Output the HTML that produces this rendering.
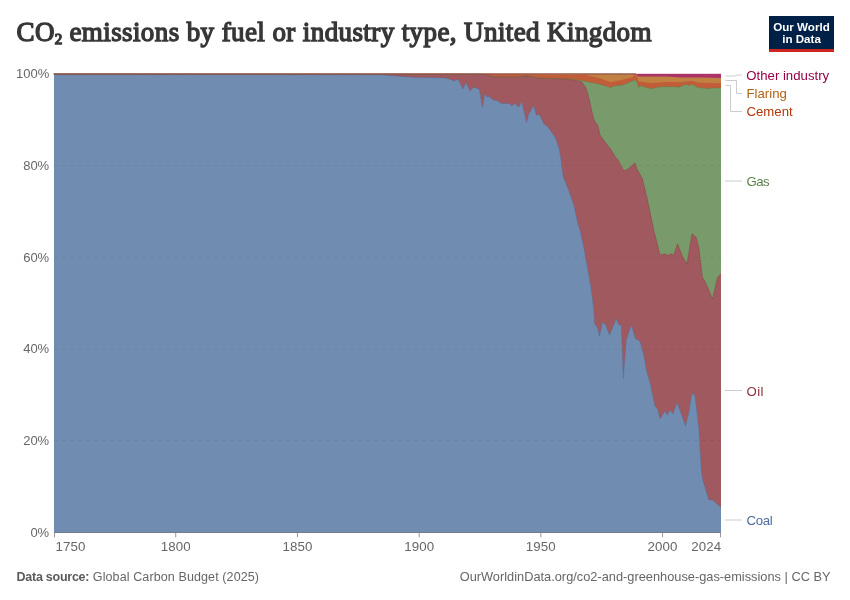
<!DOCTYPE html>
<html><head><meta charset="utf-8">
<style>
html,body{margin:0;padding:0;background:#fff;}
body{width:850px;height:600px;position:relative;overflow:hidden;font-family:"Liberation Sans",sans-serif;}
#wrap{position:absolute;left:0;top:0;width:850px;height:600px;will-change:transform;}
.t{position:absolute;white-space:nowrap;}
#title{left:16.5px;top:16.5px;font-family:"Liberation Serif",serif;font-weight:normal;font-size:27px;color:#373737;letter-spacing:0.4px;-webkit-text-stroke:1.35px #373737;}
#logo{position:absolute;left:769px;top:16px;width:65px;height:33px;background:#002147;border-bottom:3px solid #ce261e;}
#logo div{position:absolute;left:0;width:65px;text-align:center;color:#fff;font-weight:bold;font-size:11.6px;line-height:12px;}
svg text{font-family:"Liberation Sans",sans-serif;}
</style></head><body><div id="wrap">
<div id="title" class="t">CO<span style="font-size:15px;position:relative;top:3.5px;letter-spacing:0">2</span> emissions by fuel or industry type, United Kingdom</div>
<div id="logo"><div style="top:4.6px">Our World</div><div style="top:16.6px">in Data</div></div>
<svg width="850" height="600" style="position:absolute;left:0;top:0">
<rect x="54" y="73.8" width="667" height="100" fill="#ac3368"/>
<polygon points="54,73.5 636,73.6 637.5,76.3 640,76.4 665.4,76.6 682.4,77.4 703.6,77.4 721,77.9 721,520 54,520" fill="#c18143"/>
<polygon points="54,73.8 480,73.8 570,75 585.7,74.8 598.9,77.9 611.1,82.2 622.5,79.8 632.8,77 634.2,74.6 636.6,75.5 638.5,81.2 650.8,83.1 666.5,81.9 682.4,81.9 691.9,80.8 698.3,82.4 721,83.3 721,520 54,520" fill="#c15d39"/>
<polygon points="54,74 485,74.5 494,76.8 515.3,77.2 526.6,75.8 536.5,77.9 564.7,79 579,80 589.4,82.2 598.9,84 611.1,87.8 614,85.9 623.4,85 626.2,83.6 631,81.7 634.2,80 636.6,81.2 638.5,87.3 641.3,85.9 650.8,88.8 661.2,86.7 671.8,86.7 679.2,87.2 685.5,84.5 689.8,85.6 691.9,84.2 697.2,87.2 707.8,88.8 712,88 721,88 721,520 54,520" fill="#799a6a"/>
<polygon points="54,74 485,74.5 494,76.8 515.3,77.2 526.6,75.8 536.5,77.9 564.7,79 570,79.6 578,80.4 582,82 586,88 589,98 592,112 594,120 598,126 600,135 608,146 610,148 616,158 618,160 624,171 628,169 635,163 637.5,170 642.5,178.8 647.5,200 653.8,230 660,255 665,253.8 667.5,255.5 671.3,253.8 673.8,255 677.5,243.8 682.5,256.3 687,263.8 692,233.8 696.3,237.5 698.8,247.5 702.5,277.5 705,281.3 712.5,298.8 717.5,277.5 721,273.5 721,520 54,520" fill="#a0595f"/>
<polygon points="54,74.8 380,74.8 400,76.4 415,77.4 435,77.8 445,78.1 450,79.3 454,81 458,79.3 463,89 466,82.5 470,91.3 473.5,87.2 475.9,87.8 479.4,89.5 482.4,107.8 484.7,94.2 487.6,97.2 489.4,96.6 492.9,100.1 497,100.4 501.2,103.4 508.8,103.4 511.8,105.8 514.7,103.4 518.8,107.2 521.8,101.3 526.5,122.5 528.8,114.2 533.5,105.4 536.5,115.4 538.2,114.2 540.6,116.6 542,120 543.5,123.6 548,127 553.5,135 555,137 559,148 561,160 563,176 570,194 574,206 578,224 580,230 583.8,247.5 587.5,267.5 591.3,290 593.8,310 594.5,323.8 597.5,327.5 599.5,336.3 602.5,322.5 605,323.8 609.5,335 616.3,318.8 618.8,325 621.3,325 623.3,378.5 626.3,340 631.3,325 635.5,338.8 640,341.3 643.8,355 646.3,370 650,382.5 655,406.3 657.5,408.8 660,418.8 665,411.3 667.5,415 670,410 673,413.8 677,402.5 681.3,413.8 685.5,426.3 688.8,412.5 692,393 695,396.3 698.8,427.5 701.3,470 702.5,478.8 708.8,500 712.5,500 721,507.5 721,532.0 54,532.0" fill="#708cb0"/>
<polyline points="54,74.8 380,74.8 400,76.4 415,77.4 435,77.8 445,78.1 450,79.3 454,81 458,79.3 463,89 466,82.5 470,91.3 473.5,87.2 475.9,87.8 479.4,89.5 482.4,107.8 484.7,94.2 487.6,97.2 489.4,96.6 492.9,100.1 497,100.4 501.2,103.4 508.8,103.4 511.8,105.8 514.7,103.4 518.8,107.2 521.8,101.3 526.5,122.5 528.8,114.2 533.5,105.4 536.5,115.4 538.2,114.2 540.6,116.6 542,120 543.5,123.6 548,127 553.5,135 555,137 559,148 561,160 563,176 570,194 574,206 578,224 580,230 583.8,247.5 587.5,267.5 591.3,290 593.8,310 594.5,323.8 597.5,327.5 599.5,336.3 602.5,322.5 605,323.8 609.5,335 616.3,318.8 618.8,325 621.3,325 623.3,378.5 626.3,340 631.3,325 635.5,338.8 640,341.3 643.8,355 646.3,370 650,382.5 655,406.3 657.5,408.8 660,418.8 665,411.3 667.5,415 670,410 673,413.8 677,402.5 681.3,413.8 685.5,426.3 688.8,412.5 692,393 695,396.3 698.8,427.5 701.3,470 702.5,478.8 708.8,500 712.5,500 721,507.5" fill="none" stroke="#4c6a9c" stroke-width="0.6" stroke-opacity="0.6"/>
<polyline points="54,74 485,74.5 494,76.8 515.3,77.2 526.6,75.8 536.5,77.9 564.7,79 570,79.6 578,80.4 582,82 586,88 589,98 592,112 594,120 598,126 600,135 608,146 610,148 616,158 618,160 624,171 628,169 635,163 637.5,170 642.5,178.8 647.5,200 653.8,230 660,255 665,253.8 667.5,255.5 671.3,253.8 673.8,255 677.5,243.8 682.5,256.3 687,263.8 692,233.8 696.3,237.5 698.8,247.5 702.5,277.5 705,281.3 712.5,298.8 717.5,277.5 721,273.5" fill="none" stroke="#883039" stroke-width="0.6" stroke-opacity="0.6"/>
<polyline points="54,74 485,74.5 494,76.8 515.3,77.2 526.6,75.8 536.5,77.9 564.7,79 579,80 589.4,82.2 598.9,84 611.1,87.8 614,85.9 623.4,85 626.2,83.6 631,81.7 634.2,80 636.6,81.2 638.5,87.3 641.3,85.9 650.8,88.8 661.2,86.7 671.8,86.7 679.2,87.2 685.5,84.5 689.8,85.6 691.9,84.2 697.2,87.2 707.8,88.8 712,88 721,88" fill="none" stroke="#578145" stroke-width="0.6" stroke-opacity="0.6"/>
<line x1="54" x2="721" y1="165.5" y2="165.5" stroke="rgba(0,0,0,0.04)" stroke-width="1" stroke-dasharray="4,4"/>
<line x1="54" x2="721" y1="257.5" y2="257.5" stroke="rgba(0,0,0,0.04)" stroke-width="1" stroke-dasharray="4,4"/>
<line x1="54" x2="721" y1="349.0" y2="349.0" stroke="rgba(0,0,0,0.04)" stroke-width="1" stroke-dasharray="4,4"/>
<line x1="54" x2="721" y1="440.5" y2="440.5" stroke="rgba(0,0,0,0.04)" stroke-width="1" stroke-dasharray="4,4"/>
<line x1="53.3" x2="636" y1="74" y2="74" stroke="#8c5454" stroke-width="1.1"/>
<line x1="54" x2="721" y1="532.5" y2="532.5" stroke="#737d8c" stroke-width="1"/>
<line x1="54.50" x2="54.50" y1="533" y2="537.3" stroke="#999" stroke-width="1"/>
<line x1="175.72" x2="175.72" y1="533" y2="537.3" stroke="#999" stroke-width="1"/>
<line x1="297.43" x2="297.43" y1="533" y2="537.3" stroke="#999" stroke-width="1"/>
<line x1="419.15" x2="419.15" y1="533" y2="537.3" stroke="#999" stroke-width="1"/>
<line x1="540.86" x2="540.86" y1="533" y2="537.3" stroke="#999" stroke-width="1"/>
<line x1="662.58" x2="662.58" y1="533" y2="537.3" stroke="#999" stroke-width="1"/>
<line x1="720.50" x2="720.50" y1="533" y2="537.3" stroke="#999" stroke-width="1"/>
<g stroke="#ccc" stroke-width="1" fill="none">
<path d="M725.5,76 H735 L737,75 H742"/>
<path d="M725.5,80.5 H736.5 V93.5 H742"/>
<path d="M725.5,85.5 H730.5 V111.5 H742"/>
<path d="M725,181 H742"/>
<path d="M725,390.5 H742"/>
<path d="M725,520 H742"/>
</g>
<text x="49.2" y="78.2" font-size="13" fill="#666" text-anchor="end" letter-spacing="0">100%</text>
<text x="49.2" y="169.96" font-size="13" fill="#666" text-anchor="end" letter-spacing="0">80%</text>
<text x="49.2" y="261.72" font-size="13" fill="#666" text-anchor="end" letter-spacing="0">60%</text>
<text x="49.2" y="353.48" font-size="13" fill="#666" text-anchor="end" letter-spacing="0">40%</text>
<text x="49.2" y="445.24" font-size="13" fill="#666" text-anchor="end" letter-spacing="0">20%</text>
<text x="49.2" y="537" font-size="13" fill="#666" text-anchor="end" letter-spacing="0">0%</text>
<text x="55.5" y="550.6" font-size="13.3" fill="#666" text-anchor="start" letter-spacing="0.1">1750</text>
<text x="175.715" y="550.6" font-size="13.3" fill="#666" text-anchor="middle" letter-spacing="0.1">1800</text>
<text x="297.431" y="550.6" font-size="13.3" fill="#666" text-anchor="middle" letter-spacing="0.1">1850</text>
<text x="419.146" y="550.6" font-size="13.3" fill="#666" text-anchor="middle" letter-spacing="0.1">1900</text>
<text x="540.861" y="550.6" font-size="13.3" fill="#666" text-anchor="middle" letter-spacing="0.1">1950</text>
<text x="662.577" y="550.6" font-size="13.3" fill="#666" text-anchor="middle" letter-spacing="0.1">2000</text>
<text x="721.3" y="550.6" font-size="13.3" fill="#666" text-anchor="end" letter-spacing="0.1">2024</text>
<text x="746.3" y="79.6" font-size="13.2" fill="#970046" text-anchor="start" letter-spacing="0">Other industry</text>
<text x="746.5" y="98" font-size="13.2" fill="#b16214" text-anchor="start" letter-spacing="0">Flaring</text>
<text x="746.5" y="116.1" font-size="13.2" fill="#b13507" text-anchor="start" letter-spacing="0">Cement</text>
<text x="746.5" y="185.7" font-size="13.2" fill="#578145" text-anchor="start" letter-spacing="-0.6">Gas</text>
<text x="746.5" y="395.5" font-size="13.2" fill="#883039" text-anchor="start" letter-spacing="0.4">Oil</text>
<text x="746.5" y="524.9" font-size="13.2" fill="#4c6a9c" text-anchor="start" letter-spacing="-0.3">Coal</text>
<text x="16.5" y="580.6" font-size="12.5" fill="#666" text-anchor="start" letter-spacing="0.11"><tspan font-weight="bold" fill="#5b5b5b" letter-spacing="-0.25">Data source:</tspan> Global Carbon Budget (2025)</text>
<text x="830.5" y="580.8" font-size="12.8" fill="#666" text-anchor="end" letter-spacing="0">OurWorldinData.org/co2-and-greenhouse-gas-emissions | CC BY</text>
</svg>
</div></body></html>
